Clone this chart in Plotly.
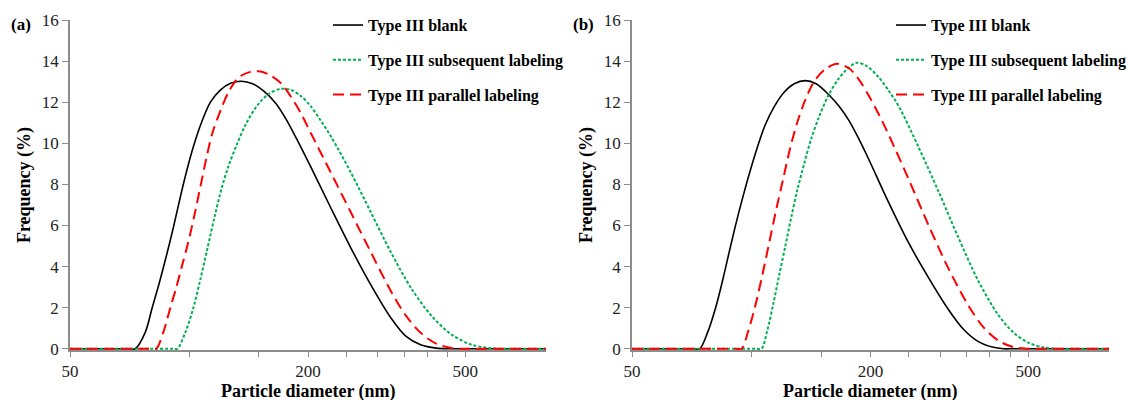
import math
import plotly.graph_objects as go
from plotly.subplots import make_subplots

# ---------------- data ----------------
# Panel (a)
blank_a_x = [50, 56, 62, 67, 70.5, 73.1, 77.5, 80.7, 84.1, 87.6, 91.3, 95.1, 99.1, 103.2, 107.5,
             113.3, 120.2, 127.4, 135.8, 144.8, 154.4, 165.7, 175.7, 186.2, 203.3, 228.5, 256.8,
             288.6, 324.3, 354.2, 386.7, 422.1, 452.7, 475, 510, 560, 630, 710, 800]
blank_a_y = [0, 0, 0, 0, 0, 0, 0.8, 2.0, 3.2, 4.5, 5.9, 7.4, 8.8, 10.0, 11.0,
             12.0, 12.6, 12.92, 13.02, 12.9, 12.55, 11.95, 11.2, 10.3, 8.85, 6.85, 4.9,
             3.1, 1.5, 0.6, 0.18, 0.03, 0, 0, 0, 0, 0, 0, 0]

subseq_a_x = [50, 58, 66, 74, 82, 88, 91, 93.4, 97.9, 102.6, 106.9, 111.4, 116.0, 120.9, 125.9,
              131.9, 139.0, 148.3, 159.0, 170.6, 180.9, 191.8, 203.3, 215.5, 228.5, 256.8, 288.6,
              324.3, 364.7, 409.9, 460.7, 517.9, 582.1, 635.4, 670, 720, 800]
subseq_a_y = [0, 0, 0, 0, 0, 0, 0, 0, 0.8, 2.0, 3.4, 4.9, 6.4, 7.8, 8.9,
              9.9, 10.9, 11.8, 12.4, 12.65, 12.6, 12.3, 11.8, 11.1, 10.34, 8.57, 6.63,
              4.69, 2.95, 1.62, 0.7, 0.2, 0.03, 0, 0, 0, 0]

parallel_a_x = [50, 57, 64, 71, 76, 80, 82.6, 86.1, 89.7, 92.9, 96.2, 99.6, 103.2, 106.9, 110.7,
                114.6, 120.2, 125.9, 133.5, 141.5, 150.0, 159.0, 170.6, 180.9, 191.8, 203.3, 228.5,
                256.8, 288.6, 324.3, 354.2, 386.7, 422.1, 460.7, 488.4, 515, 560, 620, 700, 800]
parallel_a_y = [0, 0, 0, 0, 0, 0, 0, 0.8, 2.0, 3.0, 4.1, 5.2, 6.5, 7.9, 9.3,
                10.5, 11.6, 12.5, 13.2, 13.45, 13.5, 13.35, 12.93, 12.28, 11.47, 10.5, 8.57,
                6.63, 4.69, 2.8, 1.6, 0.75, 0.25, 0.04, 0, 0, 0, 0, 0, 0]

# Panel (b)
blank_b_x = [50, 56, 62, 67, 71.5, 74.1, 77.6, 81.3, 84.6, 88.2, 91.8, 95.6, 99.5, 103.6, 108.5,
             114.4, 121.2, 128.4, 136.8, 145.8, 157.2, 166.6, 176.5, 187.0, 198.2, 222.5, 249.7,
             280.4, 314.8, 343.3, 374.3, 408.4, 432.7, 455, 490, 540, 610, 700, 800]
blank_b_y = [0, 0, 0, 0, 0, 0, 0.8, 2.0, 3.3, 4.8, 6.2, 7.5, 8.7, 9.8, 10.9,
             11.8, 12.5, 12.9, 13.05, 12.9, 12.35, 11.8, 11.1, 10.2, 9.2, 7.1, 5.15,
             3.45, 1.9, 0.95, 0.35, 0.07, 0, 0, 0, 0, 0, 0, 0]

subseq_b_x = [50, 58, 67, 76, 85, 93, 99, 103, 106.1, 109.8, 113.7, 117.7, 121.9, 126.2, 130.6,
              136.0, 141.6, 148.4, 156.3, 165.6, 175.5, 184.9, 195.9, 210.0, 222.5, 235.7, 264.6,
              297.1, 333.5, 374.3, 420.3, 458.4, 500.0, 545.3, 594.7, 630, 700, 800]
subseq_b_y = [0, 0, 0, 0, 0, 0, 0, 0, 0, 0.9, 2.2, 3.6, 5.0, 6.4, 7.7,
              9.0, 10.2, 11.3, 12.3, 13.1, 13.65, 13.92, 13.75, 13.2, 12.55, 11.8, 9.8,
              7.65, 5.4, 3.3, 1.65, 0.8, 0.3, 0.07, 0, 0, 0, 0]

parallel_b_x = [50, 57, 65, 73, 81, 87, 91.5, 94.5, 98.4, 102.4, 106.7, 111.1, 115.7, 120.5, 125.5,
                130.6, 136.8, 144.1, 153.6, 164.7, 176.5, 187.0, 198.2, 210.0, 222.5, 249.7, 280.4,
                314.8, 353.4, 385.4, 420.3, 458.4, 500.0, 530, 580, 650, 720, 800]
parallel_b_y = [0, 0, 0, 0, 0, 0, 0, 0, 0.9, 2.1, 3.6, 5.2, 6.8, 8.3, 9.8,
                11.0, 12.1, 13.0, 13.6, 13.87, 13.65, 13.1, 12.3, 11.4, 10.4, 8.25, 6.0,
                3.9, 2.1, 1.05, 0.4, 0.08, 0, 0, 0, 0, 0, 0]

series_names = ["Type III blank", "Type III subsequent labeling", "Type III parallel labeling"]
panel_labels = ["(a)", "(b)"]

x_tick_vals = [50, 100, 150, 200, 250, 300, 350, 400, 450, 500]
x_tick_text = ["50", "", "", "200", "", "", "", "", "", "500"]
y_tick_vals = [0, 2, 4, 6, 8, 10, 12, 14, 16]
x_title = "Particle diameter (nm)"
y_title = "Frequency (%)"

# ---------------- styling ----------------
FONT = "Liberation Serif, Times New Roman, serif"
AXIS_COL = "#8c8c8c"
styles = [
    dict(color="#000000", width=1.6, dash="solid"),
    dict(color="#00B050", width=2.0, dash="3px,2px"),
    dict(color="#FF0000", width=2.0, dash="11px,6px"),
]

fig = make_subplots(rows=1, cols=2)

panels = [
    [(blank_a_x, blank_a_y), (subseq_a_x, subseq_a_y), (parallel_a_x, parallel_a_y)],
    [(blank_b_x, blank_b_y), (subseq_b_x, subseq_b_y), (parallel_b_x, parallel_b_y)],
]

for p, data in enumerate(panels):
    legend_name = "legend" if p == 0 else "legend2"
    for i, (xs, ys) in enumerate(data):
        fig.add_trace(
            go.Scatter(
                x=xs, y=ys, mode="lines", name=series_names[i],
                line=dict(shape="spline", smoothing=0.9, **styles[i]),
                legend=legend_name, legendgroup=f"{p}-{i}",
            ),
            row=1, col=p + 1,
        )

L, R = 70, 1109
plot_w = R - L
dom_a = [0, (546 - L) / plot_w]
dom_b = [(632 - L) / plot_w, 1]

for p in range(2):
    fig.update_xaxes(
        type="log", range=[math.log10(50), math.log10(800)],
        tickvals=x_tick_vals, ticktext=x_tick_text,
        ticks="outside", ticklen=5, tickwidth=1.2, tickcolor=AXIS_COL,
        automargin=False, layer="below traces",
        showline=True, linecolor=AXIS_COL, linewidth=1.6,
        showgrid=False, zeroline=False,
        tickfont=dict(family=FONT, size=17, color="#222222"),
        domain=dom_a if p == 0 else dom_b,
        row=1, col=p + 1,
    )
    fig.update_yaxes(
        range=[-0.06, 16], tickvals=y_tick_vals,
        ticks="outside", ticklen=6, tickwidth=1.2, tickcolor=AXIS_COL,
        automargin=False, layer="below traces",
        showline=True, linecolor=AXIS_COL, linewidth=1.6,
        showgrid=False, zeroline=False,
        tickfont=dict(family=FONT, size=17, color="#222222"),
        title=dict(text=y_title, standoff=6,
                   font=dict(family=FONT, size=18, color="#000000", weight="bold")),
        row=1, col=p + 1,
    )

legend_common = dict(
    font=dict(family=FONT, size=16, color="#000000", weight="bold"),
    bgcolor="rgba(0,0,0,0)", borderwidth=0,
    tracegroupgap=11, itemwidth=30,
    yanchor="top", xanchor="left",
)
fig.update_layout(
    width=1128, height=400,
    margin=dict(l=L, r=1128 - R, t=20, b=50, autoexpand=False),
    paper_bgcolor="white", plot_bgcolor="white",
    legend=dict(x=(328 - L) / plot_w, y=1.036, **legend_common),
    legend2=dict(x=(891 - L) / plot_w, y=1.036, **legend_common),
    showlegend=True,
)

for p, lab in enumerate(panel_labels):
    xpix = 21 if p == 0 else 583
    fig.add_annotation(
        text=lab, xref="paper", yref="paper",
        x=(xpix - L) / plot_w, y=(350 - 25) / 330,
        xanchor="center", yanchor="middle", showarrow=False,
        font=dict(family=FONT, size=17, color="#000000", weight="bold"),
    )
    # x-axis title, centred under each panel
    fig.add_annotation(
        text=x_title, xref=f"x{'' if p == 0 else 2} domain", yref="paper",
        x=0.5, y=(350 - 391) / 330,
        xanchor="center", yanchor="middle", showarrow=False,
        font=dict(family=FONT, size=18, color="#000000", weight="bold"),
    )

fig.write_html("out.html")
